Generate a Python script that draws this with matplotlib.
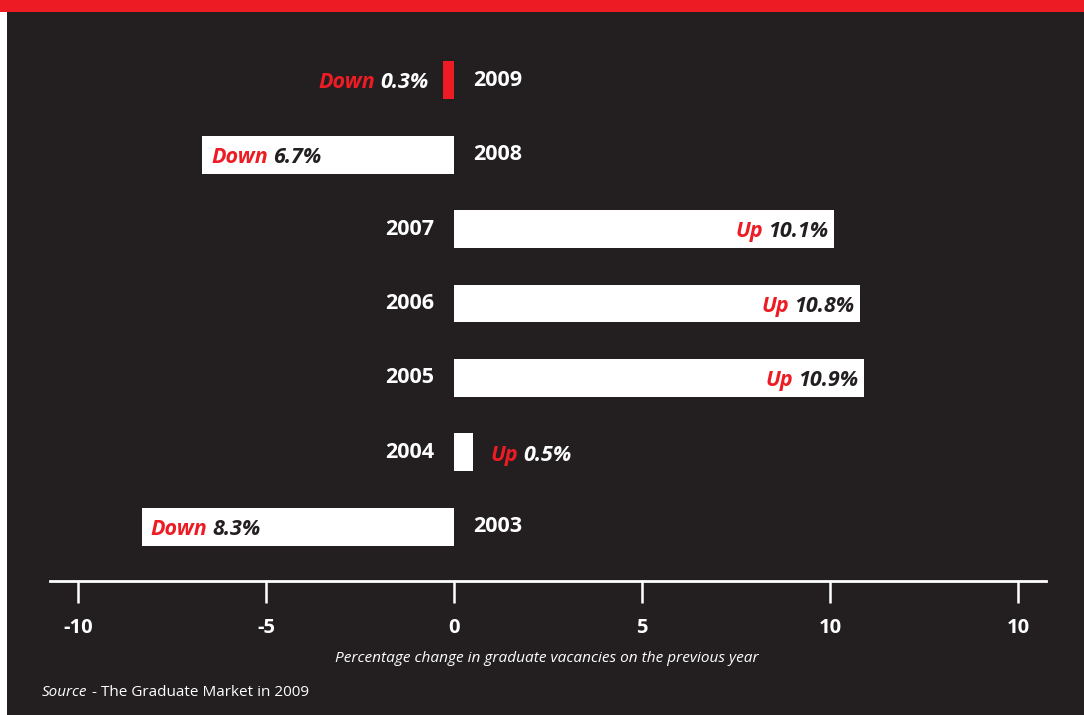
import matplotlib
matplotlib.use("Agg")
import matplotlib.pyplot as plt
from matplotlib.patches import Rectangle

# Graduate vacancies, percentage change on the previous year
years = ["2003", "2004", "2005", "2006", "2007", "2008", "2009"]
changes = [-8.3, 0.5, 10.9, 10.8, 10.1, -6.7, -0.3]
tick_values = [-10, -5, 0, 5, 10, 15]
tick_labels = ["-10", "-5", "0", "5", "10", "10"]

BG = "#231f20"
RED = "#ed1c24"
WHITE = "#ffffff"
FONT = ["Open Sans", "DejaVu Sans"]

W, H = 1084, 715
fig = plt.figure(figsize=(W / 100, H / 100), dpi=100)
fig.patch.set_facecolor(BG)

# top red band and thin white margin on the left
fig.add_artist(Rectangle((0, 1 - 12 / H), 1, 12 / H, transform=fig.transFigure,
                         facecolor=RED, edgecolor="none", zorder=0))
fig.add_artist(Rectangle((0, 0), 7 / W, 1 - 12 / H, transform=fig.transFigure,
                         facecolor=WHITE, edgecolor="none", zorder=0))

ax = fig.add_axes([50 / W, (H - 581) / H, 996 / W, 555 / H])
ax.set_facecolor(BG)
ax.set_xlim(-10.74, 15.74)
ax.set_ylim(-0.725, 6.725)

ypos = list(range(len(years)))
colors = [RED if y == "2009" else WHITE for y in years]
ax.barh(ypos, changes, height=0.51, color=colors, edgecolor="none", zorder=2)

for side in ["top", "left", "right"]:
    ax.spines[side].set_visible(False)
ax.spines["bottom"].set_color(WHITE)
ax.spines["bottom"].set_linewidth(2.0)
ax.set_yticks([])
ax.set_xticks(tick_values)
ax.set_xticklabels(tick_labels)
ax.tick_params(axis="x", colors=WHITE, length=16, width=1.8, pad=10.5, direction="out")
for lab in ax.get_xticklabels():
    lab.set_fontfamily(FONT)
    lab.set_fontweight("bold")
    lab.set_fontsize(14.5)
    lab.set_color(WHITE)

fig.canvas.draw()
renderer = fig.canvas.get_renderer()
px = ax.transData.transform((1, 0))[0] - ax.transData.transform((0, 0))[0]

label_kw = dict(family=FONT, fontsize=15.5, fontweight="bold", fontstyle="italic",
                va="center")
YEAR_SIZE = 15.5
dy = -0.035  # value labels sit a touch below the bar centre

for y, val, year in zip(ypos, changes, years):
    # year label on the opposite side of zero
    if val >= 0:
        ax.text(-20 / px, y, year, ha="right", va="center", family=FONT,
                fontsize=YEAR_SIZE, fontweight="bold", color=WHITE)
    else:
        ax.text(19 / px, y, year, ha="left", va="center", family=FONT,
                fontsize=YEAR_SIZE, fontweight="bold", color=WHITE)

    word = "Up" if val >= 0 else "Down"
    number = f"{abs(val):.1f}%"
    small = abs(val) < 1
    num_color = WHITE if small else BG
    gap = 5 / px
    yl = y + dy

    if val >= 0:
        if small:
            # outside, to the right of the bar
            t_word = ax.text(val + 18 / px, yl, word, ha="left", color=RED, **label_kw)
            ext = t_word.get_window_extent(renderer)
            x_end = ax.transData.inverted().transform((ext.x1, 0))[0]
            ax.text(x_end + gap, yl, number, ha="left", color=num_color, **label_kw)
        else:
            # inside, right-aligned near the bar end
            t_num = ax.text(val - 6 / px, yl, number, ha="right", color=num_color, **label_kw)
            ext = t_num.get_window_extent(renderer)
            x_start = ax.transData.inverted().transform((ext.x0, 0))[0]
            ax.text(x_start - gap, yl, word, ha="right", color=RED, **label_kw)
    else:
        if small:
            # outside, to the left of the bar
            t_num = ax.text(val - 14 / px, yl, number, ha="right", color=num_color, **label_kw)
            ext = t_num.get_window_extent(renderer)
            x_start = ax.transData.inverted().transform((ext.x0, 0))[0]
            ax.text(x_start - gap, yl, word, ha="right", color=RED, **label_kw)
        else:
            # inside, left-aligned near the bar end
            t_word = ax.text(val + 9 / px, yl, word, ha="left", color=RED, **label_kw)
            ext = t_word.get_window_extent(renderer)
            x_end = ax.transData.inverted().transform((ext.x1, 0))[0]
            ax.text(x_end + gap, yl, number, ha="left", color=num_color, **label_kw)

fig.text(547 / W, 1 - 659 / H, "Percentage change in graduate vacancies on the previous year",
         ha="center", va="center", family=FONT, fontsize=11.1, fontstyle="italic", color=WHITE)

t_src = fig.text(42 / W, 1 - 693 / H, "Source", ha="left", va="center", family=FONT,
                 fontsize=11, fontstyle="italic", color=WHITE)
ext = t_src.get_window_extent(renderer)
fig.text((ext.x1 + 4) / W, 1 - 693 / H, "- The Graduate Market in 2009", ha="left",
         va="center", family=FONT, fontsize=11, color=WHITE)

fig.savefig("out.png", dpi=100, facecolor=BG)
